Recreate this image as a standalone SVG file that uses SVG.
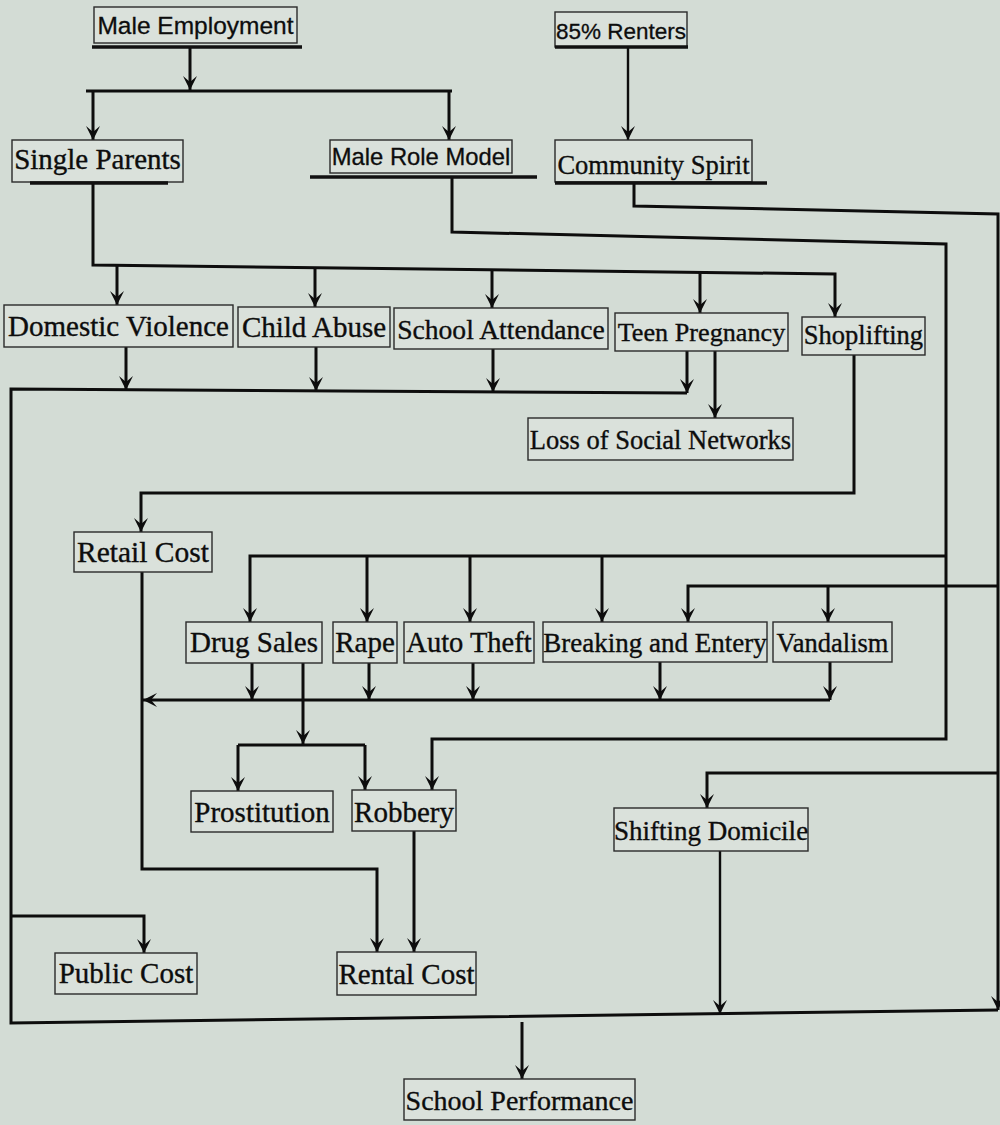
<svg xmlns="http://www.w3.org/2000/svg" width="1000" height="1125" viewBox="0 0 1000 1125">
<style>
.bg{fill:#d3dcd5}
.box{fill:#dae1db;stroke:#2a2a2a;stroke-width:1.4}
.ul{stroke:#111;stroke-width:3.4;fill:none}
.t{font-family:"Liberation Serif","Times New Roman",serif;fill:#0d0d0d;stroke:#0d0d0d;stroke-width:0.35;text-anchor:middle}
.ts{font-family:"Liberation Sans",Arial,sans-serif;fill:#0d0d0d;stroke:#0d0d0d;stroke-width:0.3;text-anchor:middle}
.c path{stroke:#0d0d0d;stroke-width:3;fill:none;stroke-linejoin:miter}
.c path.thin{stroke-width:2.4}
.a{marker-end:url(#ah)}
</style>
<defs>
<marker id="ah" viewBox="-15 -8 16 16" refX="0" refY="0" markerWidth="16" markerHeight="16" markerUnits="userSpaceOnUse" orient="auto">
<path d="M0,0 L-14,-7 L-8,0 L-14,7 Z" fill="#0d0d0d"/>
</marker>
</defs>
<rect class="bg" x="0" y="0" width="1000" height="1125"/>

<g class="c" id="connectors">
<path class="a" d="M190,47 V90"/>
<path d="M86,91 H452"/>
<path class="a" d="M93,91 V140"/>
<path class="a" d="M449,91 V140"/>
<path class="a thin" d="M628,47 V140"/>
<path class="a" d="M634,183 V206 L998,214 V1010"/>
<path class="a" d="M998,586 H688 V622"/>
<path class="a" d="M828,587 V622"/>
<path class="a" d="M998,773 H707 V808"/>
<path class="a" d="M452,177 V232 L946,244 V739 H432 V790"/>
<path class="a" d="M946,556 H250 V622"/>
<path class="a" d="M367,556 V622"/>
<path class="a" d="M470,556 V622"/>
<path class="a" d="M602,556 V622"/>
<path class="a" d="M93,182 V265 L835,274 V317"/>
<path class="a" d="M117,265 V305"/>
<path class="a" d="M315,268 V307"/>
<path class="a" d="M492,270 V308"/>
<path class="a" d="M700,272 V313"/>
<path class="a" d="M126,347 V390"/>
<path class="a" d="M316,347 V391"/>
<path class="a" d="M493,349 V392"/>
<path class="a" d="M687,351 V393"/>
<path d="M687,393 L11,389 V1023 L998,1010"/>
<path class="a" d="M522,1022 V1079"/>
<path class="a" d="M11,916 H144 V953"/>
<path class="a thin" d="M720,851 V1014"/>
<path class="a" d="M715,351 V418"/>
<path class="a" d="M854,355 V493 H141 V532"/>
<path class="a" d="M142,572 V869 H377 V952"/>
<path class="a" d="M830,700 H143"/>
<path class="a" d="M252,663 V700"/>
<path class="a" d="M369,663 V700"/>
<path class="a" d="M473,663 V700"/>
<path class="a" d="M660,662 V700"/>
<path class="a" d="M830,662 V700"/>
<path class="a" d="M303,663 V744"/>
<path d="M238,745 H365"/>
<path class="a" d="M238,745 V791"/>
<path class="a" d="M365,745 V790"/>
<path class="a" d="M414,831 V952"/>
</g>

<g id="male-employment"><rect class="box" x="94" y="7" width="203" height="36"/><line class="ul" x1="92" y1="47" x2="302" y2="47"/><text class="ts" x="195.5" y="34" font-size="24.5">Male Employment</text></g>
<g id="renters"><rect class="box" x="555" y="12" width="132" height="35"/><line class="ul" x1="555" y1="47" x2="688" y2="47"/><text class="ts" x="621" y="39" font-size="22.5">85% Renters</text></g>
<g id="single-parents"><rect class="box" x="12" y="140" width="171" height="42"/><line class="ul" x1="30" y1="183" x2="168" y2="183"/><text class="t" x="97.5" y="169" font-size="29">Single Parents</text></g>
<g id="male-role-model"><rect class="box" x="330" y="140" width="182" height="33"/><line class="ul" x1="310" y1="177" x2="537" y2="177"/><text class="ts" x="421" y="165" font-size="23.8">Male Role Model</text></g>
<g id="community-spirit"><rect class="box" x="555" y="140" width="197" height="42"/><line class="ul" x1="555" y1="183" x2="767" y2="183"/><text class="t" x="653.5" y="174" font-size="26.5">Community Spirit</text></g>
<g id="domestic-violence"><rect class="box" x="4" y="305" width="229" height="42"/><text class="t" x="118.5" y="336" font-size="29">Domestic Violence</text></g>
<g id="child-abuse"><rect class="box" x="238" y="307" width="152" height="40"/><text class="t" x="314" y="337" font-size="29">Child Abuse</text></g>
<g id="school-attendance"><rect class="box" x="394" y="308" width="214" height="41"/><text class="t" x="501" y="339" font-size="27.6">School Attendance</text></g>
<g id="teen-pregnancy"><rect class="box" x="615" y="313" width="173" height="38"/><text class="t" x="701.5" y="341" font-size="26.2">Teen Pregnancy</text></g>
<g id="shoplifting"><rect class="box" x="802" y="317" width="123" height="38"/><text class="t" x="863.5" y="344" font-size="26.5">Shoplifting</text></g>
<g id="loss-social-networks"><rect class="box" x="528" y="418" width="265" height="42"/><text class="t" x="660.5" y="449" font-size="26.5">Loss of Social Networks</text></g>
<g id="retail-cost"><rect class="box" x="74" y="532" width="138" height="40"/><text class="t" x="143" y="562" font-size="29.5">Retail Cost</text></g>
<g id="drug-sales"><rect class="box" x="186" y="622" width="136" height="41"/><text class="t" x="254" y="652" font-size="29">Drug Sales</text></g>
<g id="rape"><rect class="box" x="333" y="622" width="64" height="41"/><text class="t" x="365" y="652" font-size="29">Rape</text></g>
<g id="auto-theft"><rect class="box" x="404" y="622" width="130" height="41"/><text class="t" x="469" y="652" font-size="28.5">Auto Theft</text></g>
<g id="breaking-entery"><rect class="box" x="543" y="622" width="224" height="40"/><text class="t" x="655" y="652" font-size="27">Breaking and Entery</text></g>
<g id="vandalism"><rect class="box" x="773" y="622" width="119" height="40"/><text class="t" x="832.5" y="652" font-size="26.5">Vandalism</text></g>
<g id="prostitution"><rect class="box" x="191" y="791" width="142" height="41"/><text class="t" x="262" y="822" font-size="29">Prostitution</text></g>
<g id="robbery"><rect class="box" x="352" y="790" width="104" height="41"/><text class="t" x="404" y="822" font-size="29">Robbery</text></g>
<g id="shifting-domicile"><rect class="box" x="614" y="808" width="194" height="43"/><text class="t" x="711" y="840" font-size="27">Shifting Domicile</text></g>
<g id="public-cost"><rect class="box" x="55" y="953" width="142" height="41"/><text class="t" x="126" y="983" font-size="29">Public Cost</text></g>
<g id="rental-cost"><rect class="box" x="337" y="952" width="139" height="43"/><text class="t" x="406.5" y="984" font-size="29">Rental Cost</text></g>
<g id="school-performance"><rect class="box" x="404" y="1079" width="231" height="41"/><text class="t" x="519.5" y="1110" font-size="28">School Performance</text></g>
</svg>
